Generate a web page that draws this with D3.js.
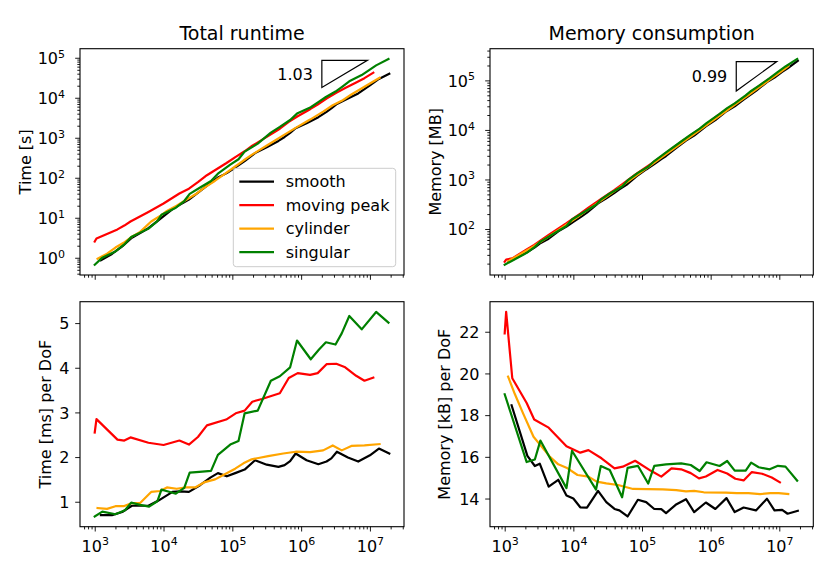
<!DOCTYPE html>
<html>
<head>
<meta charset="utf-8">
<script src="https://cdn.jsdelivr.net/npm/d3@7"></script>
<style>
body{margin:0;background:#fff;}
text{font-family:"DejaVu Sans",sans-serif;fill:#000;}
</style>
</head>
<body>
<svg id="chart" width="831" height="585"></svg>
<script>
// values (DoF, time in ms per DoF, memory in kB per DoF)
var seriesNames=["smooth","moving peak","cylinder","singular"];

var smoothTimeDof=[1230,1780,2510,3470,6030,8320,13500,17400,23400,33900,47900,61700,83200,110000,151000,214000,316000,468000,575000,692000,832000,1.20e6,1.78e6,2.34e6,2.75e6,3.31e6,4.79e6,6.76e6,1.00e7,1.35e7,1.91e7];
var smoothTime=[0.70,0.70,0.77,0.91,0.91,1.02,1.22,1.23,1.22,1.37,1.54,1.64,1.57,1.64,1.72,1.93,1.83,1.78,1.82,1.91,2.08,1.93,1.84,1.90,1.97,2.12,1.99,1.90,2.04,2.19,2.08];

var peakTimeDof=[1000,1060,2140,2690,3310,6030,10000,17000,23400,31600,42700,81300,112000,151000,195000,269000,490000,661000,891000,1.35e6,1.74e6,2.34e6,3.24e6,4.37e6,6.31e6,8.32e6,1.12e7];
var peakTime=[2.55,2.85,2.39,2.37,2.44,2.32,2.27,2.37,2.28,2.45,2.71,2.84,2.98,3.04,3.24,3.30,3.43,3.77,3.88,3.84,3.88,4.08,4.09,4.01,3.82,3.71,3.78];

var cylinderTimeDof=[1100,1510,2000,2630,3470,4570,6610,8910,11200,15500,21400,28800,39800,56200,74100,110000,145000,191000,240000,331000,550000,832000,1.35e6,2.09e6,2.88e6,3.89e6,5.37e6,8.32e6,1.38e7];
var cylinderTime=[0.86,0.84,0.90,0.90,0.97,0.97,1.22,1.24,1.32,1.29,1.32,1.32,1.44,1.50,1.60,1.74,1.86,1.95,1.98,2.02,2.08,2.12,2.11,2.15,2.26,2.15,2.25,2.26,2.29];

var singularTimeDof=[1000,1290,2000,2750,3390,4570,6170,8130,9330,11700,15100,20000,24000,33100,49000,61700,93300,123000,151000,234000,363000,490000,692000,871000,1.38e6,1.82e6,2.29e6,3.16e6,3.89e6,5.01e6,7.59e6,1.23e7,1.86e7];
var singularTime=[0.67,0.78,0.72,0.81,0.98,0.93,0.89,1.01,1.27,1.23,1.18,1.31,1.65,1.67,1.69,2.05,2.28,2.36,2.98,3.04,3.71,3.81,4.01,4.61,4.19,4.41,4.57,4.52,4.77,5.16,4.86,5.25,5.01];

var smoothMemDof=[1260,2140,2750,3240,4370,6030,7940,10000,12600,15800,22900,30200,39800,46800,61700,87100,115000,151000,191000,224000,309000,437000,575000,851000,1.17e6,1.70e6,2.24e6,3.02e6,4.57e6,6.61e6,8.51e6,1.10e7,1.32e7,1.86e7];
var smoothMem=[18.47,16.05,15.56,15.67,14.57,14.90,14.15,14.00,13.58,13.56,14.37,13.83,13.50,13.43,13.14,13.94,13.83,13.50,13.49,13.30,13.70,13.97,13.35,13.81,13.50,14.02,13.35,13.57,13.43,13.99,13.43,13.46,13.27,13.41];

var peakMemDof=[1000,1050,1290,2090,2690,4370,7940,12600,16600,25700,39800,52500,79400,135000,191000,269000,372000,513000,676000,851000,1.26e6,1.74e6,2.29e6,3.02e6,3.98e6,5.62e6,7.76e6,1.02e7];
var peakMem=[21.92,22.95,19.77,18.58,17.79,17.40,16.51,16.20,16.32,15.93,15.45,15.53,15.81,15.33,15.05,15.45,15.40,15.22,14.97,15.06,15.37,15.20,14.95,14.87,15.27,15.19,15.01,14.78];

var cylinderMemDof=[1120,1410,1860,2630,3470,4570,6030,7940,11500,16600,21900,30200,44700,74100,120000,200000,316000,437000,575000,794000,1.66e6,2.40e6,3.55e6,5.25e6,7.41e6,9.77e6,1.35e7];
var cylinderMem=[19.85,19.00,18.07,16.96,16.48,16.00,15.64,15.48,15.13,15.05,14.81,14.73,14.65,14.46,14.45,14.44,14.40,14.34,14.37,14.30,14.28,14.26,14.26,14.21,14.26,14.26,14.22];

var singularMemDof=[1000,2090,2750,3310,7940,9550,21400,25100,33900,51300,61700,87100,123000,151000,224000,372000,513000,692000,871000,1.35e6,1.74e6,2.24e6,3.24e6,3.89e6,5.01e6,7.24e6,9.55e6,1.23e7,1.82e7];
var singularMem=[19.00,15.75,15.87,16.78,14.50,16.29,14.43,15.56,15.37,14.06,15.47,15.57,14.72,15.57,15.64,15.69,15.61,15.32,15.74,15.56,15.80,15.34,15.34,15.72,15.50,15.40,15.57,15.53,14.86];

// tick labels
var dofExps=[3,4,5,6,7];
var runtimeExps=[0,1,2,3,4,5];
var memoryExps=[2,3,4,5];
var timePerDofTicks=[1,2,3,4,5];
var memPerDofTicks=[14,16,18,20,22];

// fitted slopes shown in the triangles
var slopeLabels=["1.03","0.99"];

var colors=["#000000","#ff0000","#ffa500","#008000"];

var series=[
    {dofT:smoothTimeDof,t:smoothTime,dofM:smoothMemDof,m:smoothMem},
    {dofT:peakTimeDof,t:peakTime,dofM:peakMemDof,m:peakMem},
    {dofT:cylinderTimeDof,t:cylinderTime,dofM:cylinderMemDof,m:cylinderMem},
    {dofT:singularTimeDof,t:singularTime,dofM:singularMemDof,m:singularMem}
];

// totals: per-DoF value times number of DoF (ms->s, kB->MB)
function runtimePts(s){ return s.dofT.map(function(x,i){ return [x,x*s.t[i]/1000]; }); }
function memoryPts(s){ return s.dofM.map(function(x,i){ return [x,x*s.m[i]/1000]; }); }
function timePdPts(s){ return s.dofT.map(function(x,i){ return [x,s.t[i]]; }); }
function memPdPts(s){ return s.dofM.map(function(x,i){ return [x,s.m[i]]; }); }

function logDomain(vals){
    var lo=Math.log10(d3.min(vals)),hi=Math.log10(d3.max(vals)),m=(hi-lo)*0.05;
    return [Math.pow(10,lo-m),Math.pow(10,hi+m)];
}
function linDomain(vals){
    var lo=d3.min(vals),hi=d3.max(vals),m=(hi-lo)*0.05;
    return [lo-m,hi+m];
}
function minorTicks(dom){
    var out=[];
    for(var e=Math.floor(Math.log10(dom[0]));e<=Math.ceil(Math.log10(dom[1]));e++){
        for(var k=2;k<10;k++){
            var v=k*Math.pow(10,e);
            if(v>=dom[0]&&v<=dom[1]) out.push(v);
        }
    }
    return out;
}

var allDof=[];
series.forEach(function(s){ allDof=allDof.concat(s.dofT,s.dofM); });
var xDomain=logDomain(allDof);

var panels=[
    {left:80,top:48.7,w:324,h:226.3,title:"Total runtime",ylabel:"Time [s]",ylx:25,pts:runtimePts,ylog:true,yt:runtimeExps,xlab:false,tri:0},
    {left:490,top:48.7,w:323.3,h:226.3,title:"Memory consumption",ylabel:"Memory [MB]",ylx:435.7,pts:memoryPts,ylog:true,yt:memoryExps,xlab:false,tri:1},
    {left:80,top:301.7,w:324,h:225,ylabel:"Time [ms] per DoF",ylx:45.5,pts:timePdPts,ylog:false,yt:timePerDofTicks,xlab:true},
    {left:490,top:301.7,w:323.3,h:225,ylabel:"Memory [kB] per DoF",ylx:444.3,pts:memPdPts,ylog:false,yt:memPerDofTicks,xlab:true}
];

// slope triangles in data units: [x0,x1,yTop,yBottom]
var triangles=[[2.0e6,9.2e6,8.6e4,1.8e4],[2.36e6,9.2e6,2.4e5,6.1e4]];

var svg=d3.select("#chart");

function supLabel(sel,exp){
    sel.text(null);
    sel.append("tspan").text("10");
    sel.append("tspan").attr("dy",-6.5).attr("font-size",11).text(exp);
}

panels.forEach(function(p,pi){
    var g=svg.append("g").attr("transform","translate("+p.left+","+p.top+")");
    var lines=series.map(p.pts);
    var yVals=[];
    lines.forEach(function(l){ l.forEach(function(d){ yVals.push(d[1]); }); });

    var x=d3.scaleLog().domain(xDomain).range([0,p.w]);
    var yDom=p.ylog?logDomain(yVals):linDomain(yVals);
    var y=(p.ylog?d3.scaleLog():d3.scaleLinear()).domain(yDom).range([p.h,0]);

    var clipId="clip"+pi;
    g.append("clipPath").attr("id",clipId).append("rect").attr("width",p.w).attr("height",p.h);

    var line=d3.line().x(function(d){ return x(d[0]); }).y(function(d){ return y(d[1]); });
    g.append("g").attr("clip-path","url(#"+clipId+")").selectAll("path").data(lines).enter().append("path")
        .attr("d",line)
        .attr("fill","none")
        .attr("stroke",function(d,i){ return colors[i]; })
        .attr("stroke-width",2.2)
        .attr("stroke-linejoin","round")
        .attr("stroke-linecap","square");

    // x axis
    var xMajor=dofExps.map(function(e){ return Math.pow(10,e); });
    var gx=g.append("g").attr("transform","translate(0,"+p.h+")")
        .call(d3.axisBottom(x).tickValues(xMajor).tickSize(4.8).tickFormat(""));
    gx.append("g").call(d3.axisBottom(x).tickValues(minorTicks(xDomain)).tickSize(2.7).tickFormat(""));
    gx.selectAll(".domain").remove();
    gx.selectAll("line").attr("stroke-width",0.9);
    if(p.xlab){
        gx.selectAll(".tick").filter(function(d){ return xMajor.indexOf(d)>=0; }).append("text")
            .attr("y",25)
            .attr("text-anchor","middle")
            .attr("font-size",16)
            .each(function(d){ supLabel(d3.select(this),Math.round(Math.log10(d))); });
    }

    // y axis
    var gy=g.append("g");
    if(p.ylog){
        var yMajor=p.yt.map(function(e){ return Math.pow(10,e); });
        gy.call(d3.axisLeft(y).tickValues(yMajor).tickSize(4.8).tickFormat(""));
        gy.append("g").call(d3.axisLeft(y).tickValues(minorTicks(yDom)).tickSize(2.7).tickFormat(""));
        gy.selectAll(".tick").filter(function(d){ return yMajor.indexOf(d)>=0; }).append("text")
            .attr("x",-15)
            .attr("dy","0.36em")
            .attr("text-anchor","end")
            .attr("font-size",16)
            .each(function(d){ supLabel(d3.select(this),Math.round(Math.log10(d))); });
    }else{
        gy.call(d3.axisLeft(y).tickValues(p.yt).tickSize(4.8).tickFormat(""));
        gy.selectAll(".tick").append("text")
            .attr("x",-10.5)
            .attr("dy","0.36em")
            .attr("text-anchor","end")
            .attr("font-size",16)
            .text(function(d){ return d; });
    }
    gy.selectAll(".domain").remove();
    gy.selectAll("line").attr("stroke-width",0.9);
    gx.selectAll("text").attr("font-family","DejaVu Sans").attr("fill","#000");
    gy.selectAll("text").attr("font-family","DejaVu Sans").attr("fill","#000");

    // frame
    g.append("rect").attr("width",p.w).attr("height",p.h)
        .attr("fill","none").attr("stroke","#000").attr("stroke-width",1.1);

    if(p.title){
        svg.append("text").attr("x",p.left+p.w/2).attr("y",40)
            .attr("text-anchor","middle").attr("font-size",19).text(p.title);
    }
    svg.append("text")
        .attr("transform","translate("+p.ylx+","+(p.top+p.h/2)+") rotate(-90)")
        .attr("dy","0.36em")
        .attr("text-anchor","middle")
        .attr("font-size",16)
        .text(p.ylabel);

    if(p.tri!==undefined){
        var t=triangles[p.tri];
        var x0=x(t[0]),x1=x(t[1]),yt=y(t[2]),yb=y(t[3]);
        g.append("path")
            .attr("d","M"+x0+","+yt+"L"+x1+","+yt+"L"+x0+","+yb+"Z")
            .attr("fill","none").attr("stroke","#000").attr("stroke-width",1.2);
        g.append("text").attr("x",x0-9).attr("y",(yt+yb)/2).attr("dy","0.36em")
            .attr("text-anchor","end").attr("font-size",16).text(slopeLabels[p.tri]);
    }

    if(pi===0){
        var lg=g.append("g").attr("transform","translate(153.3,119.6)");
        lg.append("rect").attr("width",162.4).attr("height",98.4).attr("rx",3)
            .attr("fill","#fff").attr("fill-opacity",0.8)
            .attr("stroke","#cccccc").attr("stroke-width",1);
        var rows=lg.selectAll("g.row").data(seriesNames).enter().append("g")
            .attr("transform",function(d,i){ return "translate(0,"+(13.4+i*23.5)+")"; });
        rows.append("line").attr("x1",6).attr("x2",40.7)
            .attr("stroke",function(d,i){ return colors[i]; }).attr("stroke-width",2.2);
        rows.append("text").attr("x",52.4).attr("dy","0.36em").attr("font-size",16)
            .text(function(d){ return d; });
    }
});
</script>
</body>
</html>
